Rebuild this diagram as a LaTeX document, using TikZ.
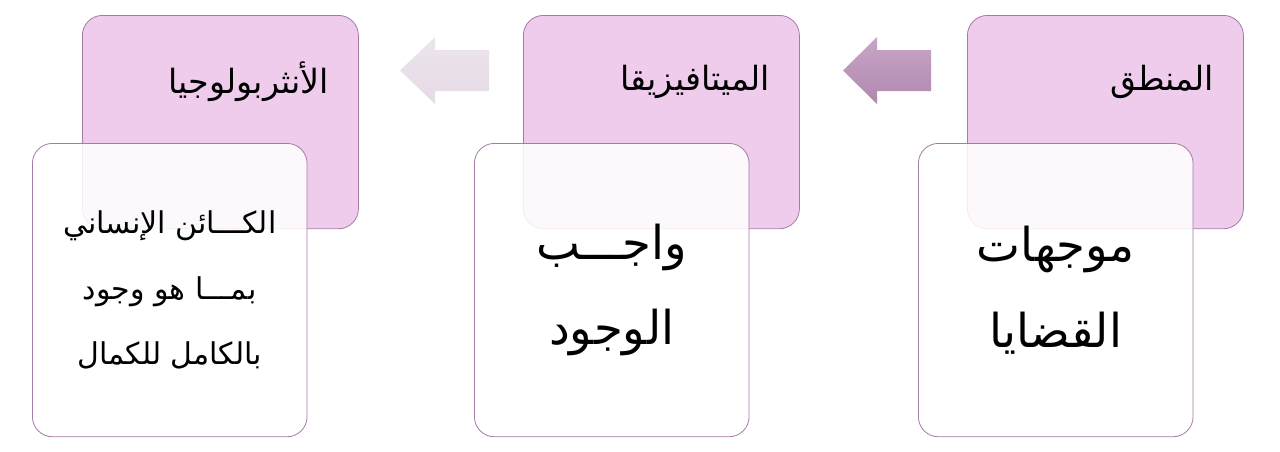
\documentclass[tikz,border=0pt]{standalone}
\usepackage{fontspec}
\newfontfamily\arabicfont[Script=Arabic]{DejaVu Sans}
\TeXXeTstate=1
\usepackage{tikz}
\usetikzlibrary{positioning,calc}

\definecolor{headpink}{HTML}{EFCCEC}
\definecolor{edgepurple}{HTML}{A47BA4}

\begin{document}
\begin{tikzpicture}[x=0.75pt, y=-0.75pt,
    headbox/.style={draw=edgepurple, line width=0.6pt, fill=headpink, rounded corners=15pt,
        minimum width=207pt, minimum height=160pt, anchor=north west, inner sep=0pt},
    bodybox/.style={draw=edgepurple, line width=0.6pt, fill=white, fill opacity=0.87, text opacity=1,
        rounded corners=15pt, minimum width=206pt, minimum height=220pt, anchor=north west,
        align=center, inner sep=0pt},
    headtext/.style={anchor=east, font=\arabicfont\fontsize{25}{28}\selectfont},
    bigtext/.style={font=\arabicfont\fontsize{35}{64}\selectfont},
    smalltext/.style={font=\arabicfont\fontsize{22.5}{49}\selectfont}]
    \useasboundingbox (0,0) rectangle (1280,451);

    % Logic
    \node[headbox] (logic) at (967,15) {};
    \node[headtext] (logictitle) at ($(logic.north east)+(-25,67)$) {\beginR المنطق\endR};
    \node[bodybox, bigtext] (logicbody) at (918,143) {\beginR موجهات\endR\\\beginR القضايا\endR};

    % Metaphysics
    \node[headbox] (meta) at (523,15) {};
    \node[headtext] (metatitle) at ($(meta.north east)+(-25,67)$) {\beginR الميتافيزيقا\endR};
    \node[bodybox, bigtext] (metabody) at (474,143) {\beginR واجـــب\endR\\\beginR الوجود\endR};

    % Anthropology
    \node[headbox] (anthro) at (82,15) {};
    \node[headtext] (anthrotitle) at ($(anthro.north east)+(-25,67)$) {\beginR الأنثربولوجيا\endR};
    \node[bodybox, smalltext] (anthrobody) at (32,143) {\beginR الكـــائن الإنساني\endR\\\beginR بمـــا هو وجود\endR\\\beginR بالكامل للكمال\endR};

    % Arrows
    \shade[top color=headpink!40!edgepurple!90, bottom color=edgepurple!85!headpink]
        (931,50) -- (877,50) -- (877,37) -- (843,70.5) -- (877,104) -- (877,91) -- (931,91) -- cycle;
    \shade[top color=edgepurple!20!white, bottom color=edgepurple!28!white]
        (489,50) -- (435,50) -- (435,37) -- (400,70.5) -- (435,104) -- (435,91) -- (489,91) -- cycle;
\end{tikzpicture}
\end{document}
